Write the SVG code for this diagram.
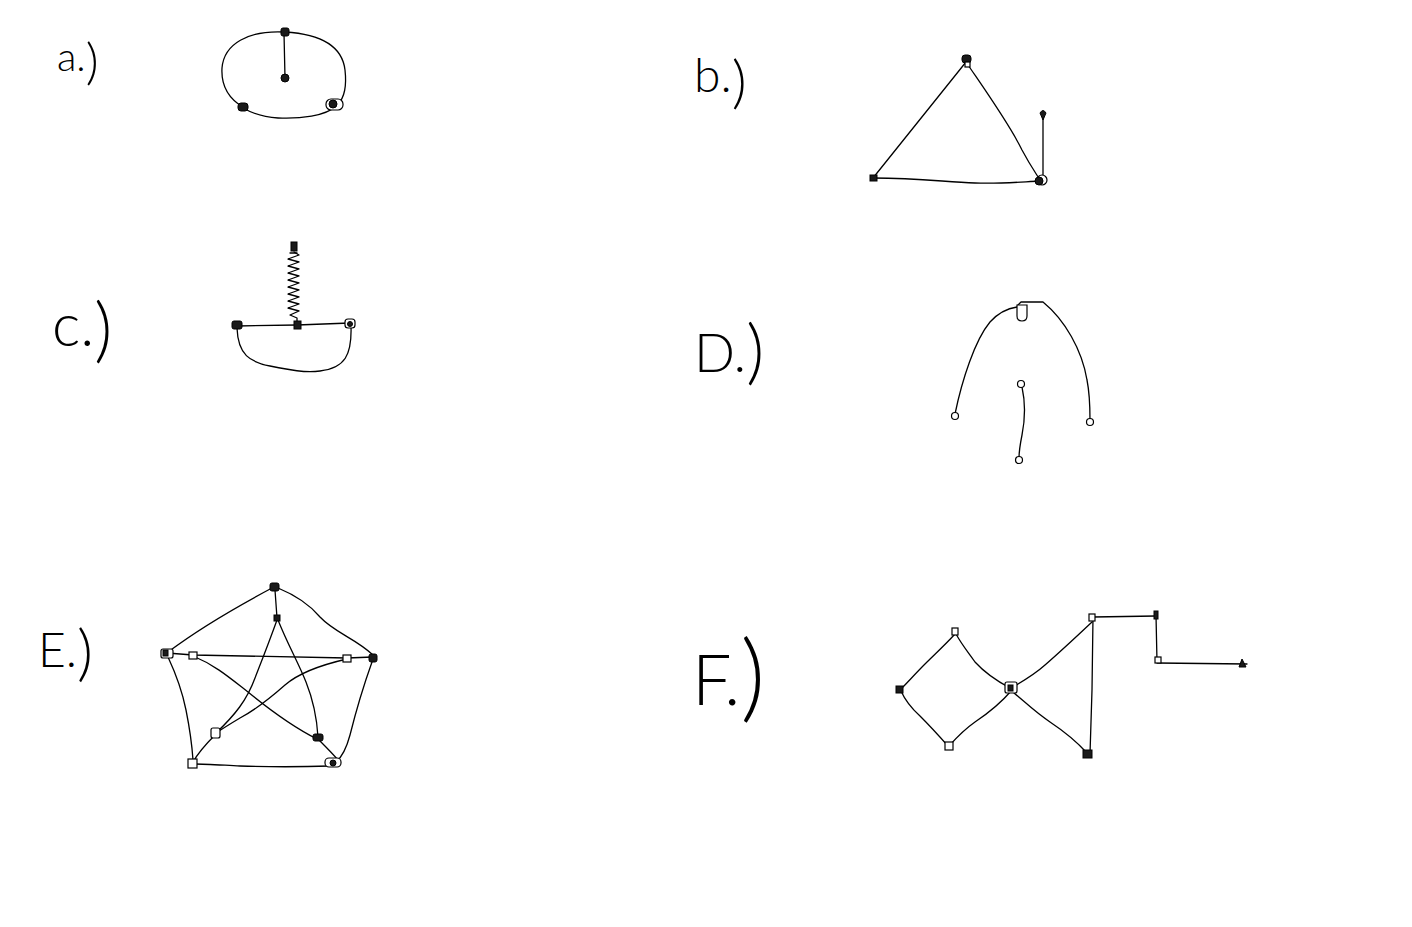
<svg xmlns="http://www.w3.org/2000/svg" width="1412" height="927" viewBox="0 0 1412 927">
<style>
.bg{fill:#fff}
.e{fill:none;stroke:#000;stroke-width:1.3;stroke-linecap:round;stroke-linejoin:round}
.nf{fill:#1a1a1a;stroke:#000;stroke-width:1}
.nh{fill:#fff;stroke:#000;stroke-width:1.2}
.lbl{font-family:Lato,"Liberation Sans",sans-serif;font-weight:300;fill:#000}
</style>
<rect class="bg" x="0" y="0" width="1412" height="927"/>
<g id="labels">
<text class="lbl" x="57" y="71" font-size="40">a.<tspan font-size="50" dy="8">)</tspan></text>
<text class="lbl" x="694" y="92" font-size="48">b.<tspan font-size="58" dy="10">)</tspan></text>
<text class="lbl" x="52" y="346" font-size="60">c.<tspan font-size="70" dy="8">)</tspan></text>
<text class="lbl" x="694" y="372" font-size="54">D.<tspan font-size="70" dy="4">)</tspan></text>
<text class="lbl" x="38" y="667" font-size="48">E.<tspan font-size="62" dy="7">)</tspan></text>
<text class="lbl" x="692" y="705" font-size="70">F.<tspan font-size="96" dy="5">)</tspan></text>
</g>
<g id="connectors">
<!-- a -->
<path class="e" d="M285,32 C318,34 342,44 345,70 C347,88 344,98 338,104"/>
<path class="e" d="M336,106 C326,116 300,119 278,118 C262,117 250,112 243,108"/>
<path class="e" d="M243,107 C228,98 221,85 222,68 C224,44 248,30 285,32"/>
<path class="e" d="M284,33 L285,78"/>
<!-- b -->
<path class="e" d="M966,62 L873,178"/>
<path class="e" d="M966,62 C985,90 1010,125 1022,150 C1030,165 1035,172 1040,180"/>
<path class="e" d="M873,178 C920,178 945,182 975,183 C1000,184 1020,182 1040,181"/>
<path class="e" d="M1043,115 L1043,180"/>
<!-- c -->
<path class="e" d="M237,326 L297,325 L350,323"/>
<path class="e" d="M237,328 C238,355 250,362 270,366 C290,370 305,373 320,371 C345,368 352,355 351,326"/>
<polyline class="e" points="294,252 299,255 288,259 299,262 288,266 299,269 288,273 299,276 288,280 299,283 288,287 299,290 288,294 299,297 288,301 299,304 288,308 299,311 290,315 297,318 297,323"/>
<path class="e" d="M290,253 L297,253"/>
<!-- D -->
<path class="e" d="M955,414 C962,380 975,340 990,322 C1000,311 1010,308 1017,307"/>
<path class="e" d="M1018,305 L1021,302 L1043,302 C1065,320 1082,350 1087,380 C1090,395 1090,410 1090,420"/>
<path class="e" d="M1022,387 C1026,405 1025,420 1022,435 C1020,445 1019,452 1019,458"/>
<!-- E -->
<path class="e" d="M272,588 C240,605 200,628 168,652"/>
<path class="e" d="M278,588 C295,595 310,605 320,617 C335,633 355,638 373,655"/>
<path class="e" d="M372,662 C362,690 355,715 350,735 C346,750 342,757 336,762"/>
<path class="e" d="M330,766 C300,767 270,767 240,766 C220,765 205,764 195,764"/>
<path class="e" d="M168,657 C175,672 182,690 186,710 C190,730 192,745 193,760"/>
<path class="e" d="M275,590 L277,618"/>
<path class="e" d="M167,653 L193,655 L347,658 L373,657"/>
<path class="e" d="M277,620 C268,645 262,660 255,678 C247,700 235,715 216,733"/>
<path class="e" d="M278,620 C288,645 298,662 306,682 C314,702 317,720 318,737"/>
<path class="e" d="M193,656 C215,665 230,678 248,692 C270,710 295,728 317,739"/>
<path class="e" d="M347,659 C325,664 300,672 285,685 C268,700 255,710 240,718 C230,724 222,729 216,733"/>
<path class="e" d="M193,762 C197,755 203,747 215,735"/>
<path class="e" d="M338,760 C333,754 327,748 319,740"/>
<!-- F -->
<path class="e" d="M955,634 C945,645 935,654 925,664 C915,674 908,682 901,689"/>
<path class="e" d="M956,634 C962,645 968,652 975,662 C985,673 995,680 1010,688"/>
<path class="e" d="M901,691 C905,700 910,707 920,716 C930,726 940,737 948,746"/>
<path class="e" d="M950,745 C958,736 965,729 975,722 C990,712 1000,704 1012,690"/>
<path class="e" d="M1013,687 C1025,680 1035,674 1045,665 C1060,652 1075,638 1092,622"/>
<path class="e" d="M1014,693 C1025,702 1035,712 1050,722 C1065,732 1077,742 1087,753"/>
<path class="e" d="M1093,617 L1092,690 L1090,754"/>
<path class="e" d="M1093,617 L1156,616"/>
<path class="e" d="M1156,615 L1157,662"/>
<path class="e" d="M1157,663 L1247,664"/>
</g>
<g id="a-top"><rect class="nf" x="281" y="28" width="8" height="8" rx="2"/></g>
<g id="a-center"><circle class="nf" cx="285" cy="78" r="4"/></g>
<g id="a-bl"><rect class="nf" x="238" y="103" width="10" height="8" rx="3"/></g>
<g id="a-br"><rect class="nh" x="326" y="99" width="17" height="11" rx="5"/><circle class="nf" cx="333" cy="104" r="4"/></g>
<g id="b-top"><rect class="nf" x="962" y="55" width="9" height="8" rx="3"/><rect class="nh" x="965" y="62" width="5" height="5"/></g>
<g id="b-bl"><rect class="nf" x="870" y="175" width="7" height="6"/></g>
<g id="b-br"><circle class="nh" cx="1042" cy="180" r="5"/><circle class="nf" cx="1039" cy="181" r="4"/></g>
<g id="b-pend"><path class="nf" d="M1040,113 Q1043,108 1046,113 L1043,120 Z"/></g>
<g id="c-left"><rect class="nf" x="232" y="321" width="10" height="8" rx="2"/></g>
<g id="c-mid"><rect class="nf" x="294" y="321" width="7" height="8"/></g>
<g id="c-right"><rect class="nh" x="345" y="319" width="10" height="9" rx="3"/><circle class="nf" cx="350" cy="324" r="2.5"/></g>
<g id="c-top"><rect class="nf" x="291" y="242" width="6" height="9"/></g>
<g id="d-top"><path class="nh" d="M1017,305 L1017,316 Q1017,321 1022,321 Q1027,321 1027,316 L1027,305 Z"/></g>
<g id="d-left"><circle class="nh" cx="955" cy="416" r="3.5"/></g>
<g id="d-right"><circle class="nh" cx="1090" cy="422" r="3.5"/></g>
<g id="d-mid"><circle class="nh" cx="1021" cy="384" r="3.5"/></g>
<g id="d-bot"><circle class="nh" cx="1019" cy="460" r="3.5"/></g>
<g id="e-t"><rect class="nf" x="270" y="583" width="9" height="8" rx="2"/></g>
<g id="e-l"><rect class="nh" x="161" y="649" width="12" height="9" rx="2"/><rect class="nf" x="163" y="650" width="5" height="6"/></g>
<g id="e-ilt"><rect class="nh" x="189" y="652" width="8" height="7"/></g>
<g id="e-irt"><rect class="nh" x="343" y="655" width="8" height="7"/></g>
<g id="e-r"><rect class="nf" x="369" y="654" width="8" height="8" rx="2"/></g>
<g id="e-it"><rect class="nf" x="274" y="615" width="6" height="6"/></g>
<g id="e-ibl"><rect class="nh" x="211" y="728" width="9" height="10" rx="2"/></g>
<g id="e-ibr"><rect class="nf" x="313" y="734" width="10" height="7" rx="2"/></g>
<g id="e-bl"><rect class="nh" x="188" y="759" width="9" height="9"/></g>
<g id="e-br"><rect class="nh" x="325" y="758" width="16" height="9" rx="4"/><circle class="nf" cx="333" cy="763" r="3"/></g>
<g id="f-t"><rect class="nh" x="952" y="628" width="6" height="7"/></g>
<g id="f-l"><rect class="nf" x="896" y="686" width="7" height="7"/></g>
<g id="f-b"><rect class="nh" x="945" y="742" width="8" height="8"/></g>
<g id="f-c"><rect class="nh" x="1005" y="682" width="12" height="11" rx="2"/><rect class="nf" x="1008" y="685" width="5" height="6"/></g>
<g id="f-tr"><rect class="nh" x="1089" y="614" width="6" height="7"/></g>
<g id="f-br"><rect class="nf" x="1083" y="750" width="9" height="8"/></g>
<g id="f-n1"><rect class="nf" x="1154" y="611" width="4" height="8"/></g>
<g id="f-n2"><rect class="nh" x="1155" y="657" width="6" height="6"/></g>
<g id="f-e"><path class="nf" d="M1239,667 L1242,659 L1246,667 Z"/></g>
</svg>
